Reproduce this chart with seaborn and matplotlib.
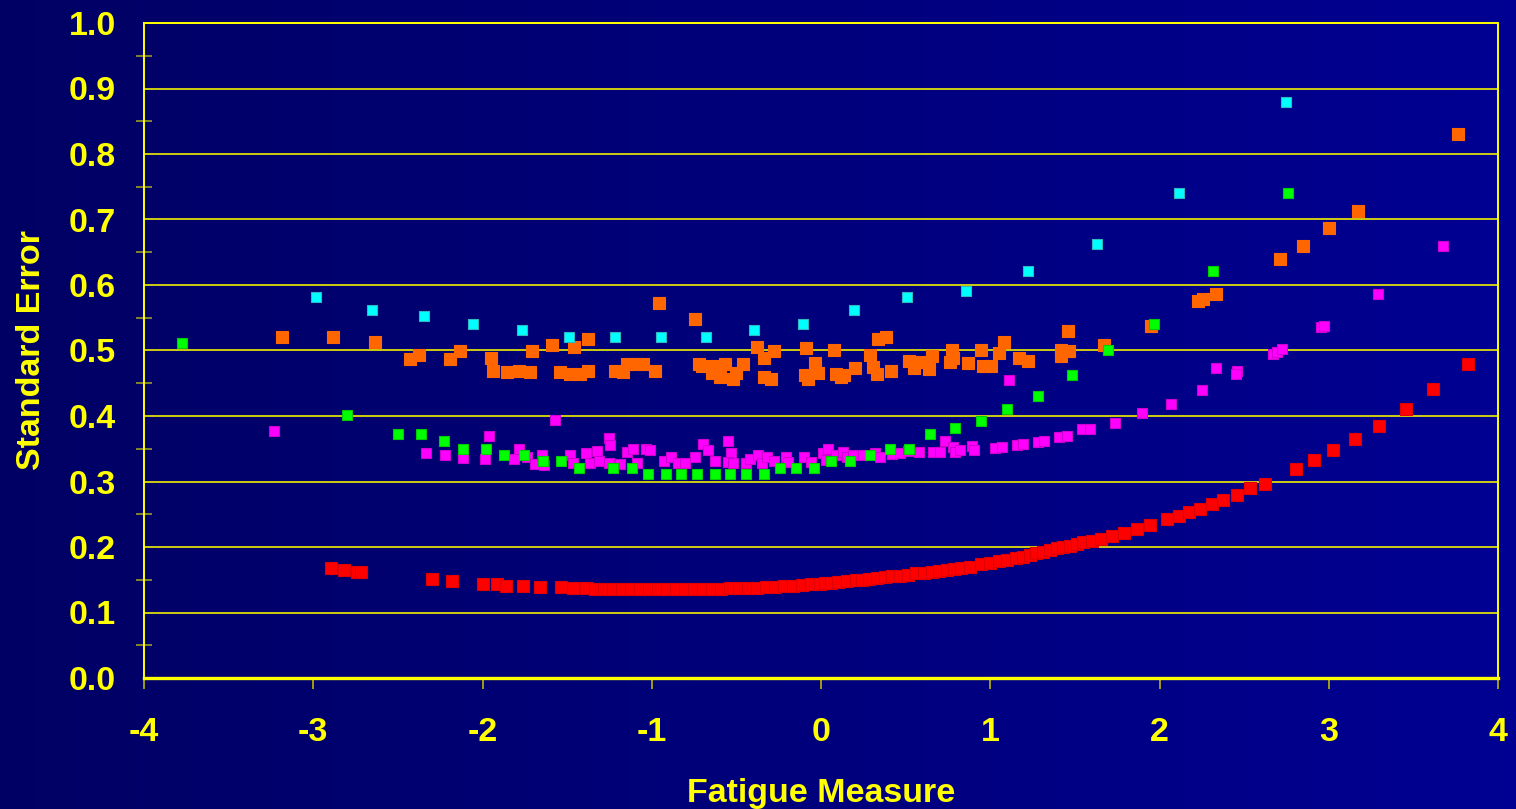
import numpy as np
import pandas as pd
import matplotlib
matplotlib.use("Agg")
import matplotlib.pyplot as plt
import seaborn as sns
from matplotlib.colors import LinearSegmentedColormap
from matplotlib.ticker import MultipleLocator

# --- datos ---
red_x = [-2.895, -2.818, -2.744, -2.718, -2.296, -2.180, -1.998, -1.914, -1.861, -1.761,
         -1.660, -1.539, -1.465, -1.386, -1.335, -1.282, -1.229, -1.176, -1.123, -1.069,
         -1.016, -0.963, -0.910, -0.857, -0.804, -0.750, -0.697, -0.644, -0.591, -0.538,
         -0.485, -0.432, -0.381, -0.325, -0.272, -0.219, -0.166, -0.111, -0.060, -0.006,
         0.021, 0.059, 0.100, 0.152, 0.205, 0.242, 0.284, 0.331, 0.376, 0.422,
         0.469, 0.514, 0.561, 0.609, 0.654, 0.700, 0.746, 0.786, 0.825, 0.880,
         0.944, 0.998, 1.049, 1.099, 1.155, 1.194, 1.234, 1.273, 1.313, 1.353,
         1.392, 1.430, 1.471, 1.513, 1.550, 1.601, 1.656, 1.722, 1.788, 1.867,
         1.946, 2.046, 2.118, 2.173, 2.242, 2.310, 2.376, 2.455, 2.534, 2.621,
         2.806, 2.912, 3.027, 3.154, 3.299, 3.455, 3.618, 3.821]
red_y = [0.168, 0.165, 0.162, 0.162, 0.151, 0.148, 0.144, 0.144, 0.141, 0.141,
         0.139, 0.139, 0.137, 0.137, 0.136, 0.136, 0.136, 0.136, 0.136, 0.136,
         0.136, 0.136, 0.136, 0.136, 0.136, 0.136, 0.136, 0.136, 0.1365, 0.137,
         0.137, 0.1375, 0.138, 0.139, 0.139, 0.140, 0.141, 0.142, 0.143, 0.144,
         0.145, 0.145, 0.146, 0.148, 0.150, 0.150, 0.151, 0.152, 0.154, 0.155,
         0.156, 0.158, 0.160, 0.161, 0.162, 0.163, 0.165, 0.166, 0.168, 0.170,
         0.174, 0.176, 0.178, 0.180, 0.183, 0.185, 0.188, 0.191, 0.193, 0.196,
         0.198, 0.200, 0.202, 0.205, 0.207, 0.209, 0.212, 0.217, 0.222, 0.227,
         0.233, 0.243, 0.248, 0.253, 0.258, 0.265, 0.272, 0.279, 0.290, 0.296,
         0.319, 0.333, 0.348, 0.365, 0.384, 0.411, 0.441, 0.479]

orange_x = [-3.185, -2.883, -2.635, -2.428, -2.375, -2.192, -2.133, -1.952, -1.938, -1.857,
            -1.784, -1.719, -1.708, -1.589, -1.542, -1.483, -1.459, -1.424, -1.378, -1.378,
            -1.217, -1.168, -1.146, -1.089, -1.050, -0.983, -0.957, -0.744, -0.721, -0.705,
            -0.642, -0.625, -0.597, -0.567, -0.522, -0.502, -0.461, -0.378, -0.337, -0.337,
            -0.297, -0.278, -0.089, -0.095, -0.075, -0.035, -0.016, 0.077, 0.089, 0.118,
            0.136, 0.201, 0.337, 0.384, 0.290, 0.307, 0.331, 0.414, 0.520, 0.549,
            0.589, 0.638, 0.656, 0.762, 0.774, 0.780, 0.869, 0.945, 0.957, 1.006,
            1.052, 1.081, 1.170, 1.223, 1.418, 1.418, 1.465, 1.459, 1.672, 1.950,
            2.226, 2.257, 2.334, 2.712, 2.848, 3.001, 3.173, 3.764]
orange_y = [0.521, 0.521, 0.513, 0.487, 0.493, 0.487, 0.499, 0.489, 0.469, 0.467,
            0.469, 0.467, 0.499, 0.508, 0.467, 0.464, 0.505, 0.464, 0.518, 0.469,
            0.469, 0.467, 0.480, 0.480, 0.480, 0.469, 0.573, 0.548, 0.480, 0.477,
            0.465, 0.477, 0.460, 0.480, 0.457, 0.465, 0.480, 0.506, 0.489, 0.460,
            0.457, 0.499, 0.504, 0.463, 0.457, 0.481, 0.465, 0.501, 0.464, 0.460,
            0.463, 0.474, 0.518, 0.521, 0.493, 0.475, 0.464, 0.469, 0.484, 0.473,
            0.482, 0.472, 0.492, 0.482, 0.501, 0.489, 0.481, 0.501, 0.477, 0.477,
            0.496, 0.513, 0.489, 0.484, 0.501, 0.492, 0.499, 0.530, 0.508, 0.538,
            0.575, 0.579, 0.586, 0.640, 0.660, 0.687, 0.713, 0.831]

magenta_x = [-3.234, -2.336, -2.220, -2.113, -1.985, -1.960, -1.814, -1.784, -1.739, -1.690,
             -1.650, -1.634, -1.572, -1.483, -1.465, -1.386, -1.365, -1.323, -1.312, -1.254,
             -1.247, -1.255, -1.188, -1.149, -1.109, -1.087, -1.034, -1.010, -0.928, -0.889,
             -0.845, -0.801, -0.744, -0.697, -0.668, -0.626, -0.552, -0.529, -0.547, -0.517,
             -0.443, -0.420, -0.375, -0.349, -0.317, -0.280, -0.204, -0.195, -0.100, -0.062,
             0.013, 0.041, 0.030, 0.091, 0.132, 0.152, 0.191, 0.250, 0.319, 0.349,
             0.418, 0.467, 0.516, 0.581, 0.664, 0.703, 0.733, 0.782, 0.792, 0.821,
             0.890, 0.904, 1.028, 1.068, 1.109, 1.156, 1.195, 1.284, 1.318, 1.408,
             1.455, 1.540, 1.589, 1.737, 1.894, 2.068, 2.251, 2.334, 2.458, 2.450,
             2.672, 2.692, 2.722, 2.954, 2.972, 3.291, 3.675]
magenta_y = [0.377, 0.343, 0.340, 0.336, 0.335, 0.369, 0.334, 0.350, 0.338, 0.327,
             0.341, 0.325, 0.394, 0.340, 0.328, 0.343, 0.328, 0.347, 0.331, 0.367,
             0.355, 0.329, 0.326, 0.345, 0.349, 0.328, 0.350, 0.348, 0.331, 0.337,
             0.328, 0.328, 0.338, 0.357, 0.348, 0.331, 0.362, 0.343, 0.330, 0.328,
             0.328, 0.335, 0.340, 0.328, 0.338, 0.331, 0.338, 0.330, 0.338, 0.330,
             0.344, 0.349, 0.333, 0.340, 0.345, 0.338, 0.340, 0.340, 0.343, 0.338,
             0.342, 0.343, 0.347, 0.345, 0.345, 0.345, 0.362, 0.353, 0.345, 0.348,
             0.354, 0.348, 0.351, 0.353, 0.455, 0.356, 0.357, 0.361, 0.362, 0.368,
             0.370, 0.380, 0.380, 0.390, 0.404, 0.418, 0.439, 0.474, 0.469, 0.464,
             0.495, 0.497, 0.502, 0.536, 0.538, 0.586, 0.660]

green_x = [-3.774, -2.799, -2.499, -2.363, -2.229, -2.113, -1.978, -1.873, -1.756, -1.641,
           -1.535, -1.428, -1.226, -1.119, -1.022, -0.916, -0.829, -0.734, -0.627, -0.539,
           -0.444, -0.338, -0.242, -0.146, -0.040, 0.057, 0.173, 0.290, 0.406, 0.522,
           0.646, 0.792, 0.945, 1.101, 1.284, 1.485, 1.698, 1.969, 2.316, 2.759]
green_y = [0.511, 0.401, 0.372, 0.372, 0.362, 0.350, 0.350, 0.341, 0.341, 0.331,
           0.331, 0.321, 0.321, 0.321, 0.311, 0.311, 0.311, 0.311, 0.311, 0.311,
           0.311, 0.311, 0.321, 0.321, 0.321, 0.331, 0.331, 0.341, 0.350, 0.350,
           0.372, 0.382, 0.392, 0.411, 0.431, 0.462, 0.501, 0.540, 0.621, 0.740]

cyan_x = [-2.982, -2.653, -2.346, -2.056, -1.767, -1.487, -1.217, -0.947, -0.678, -0.396,
          -0.108, 0.193, 0.510, 0.858, 1.223, 1.631, 2.113, 2.749]
cyan_y = [0.582, 0.562, 0.553, 0.541, 0.531, 0.521, 0.521, 0.521, 0.521, 0.531,
          0.541, 0.562, 0.582, 0.591, 0.621, 0.663, 0.740, 0.880]

x_ticks = [-4, -3, -2, -1, 0, 1, 2, 3, 4]

# --- estilo ---
sns.set_theme(style="white")
plt.rcParams['font.family'] = ['Liberation Sans', 'DejaVu Sans']
plt.rcParams['font.weight'] = 'bold'

YELLOW = '#FFFF00'

fig = plt.figure(figsize=(15.16, 8.09), dpi=100)
fig.patch.set_facecolor('#000066')

# fondo degradado (azul oscuro -> azul)
bg = fig.add_axes([0, 0, 1, 1], zorder=-1)
cmap_bg = LinearSegmentedColormap.from_list('bg', ['#000064', '#000092'])
bg.imshow(np.linspace(0, 1, 256).reshape(1, -1), cmap=cmap_bg, aspect='auto',
          extent=[0, 1, 0, 1])
bg.axis('off')

ax = fig.add_axes([144 / 1516, 131 / 809, 1354 / 1516, 655 / 809])
ax.set_facecolor('none')

series = [
    (red_x, red_y, '#FF0000', '#E00000', 66),
    (orange_x, orange_y, '#FF6600', '#FF6600', 84),
    (magenta_x, magenta_y, '#FF00FF', '#D000D0', 60),
    (green_x, green_y, '#00FF00', '#00CC00', 60),
    (cyan_x, cyan_y, '#00FFFF', '#30B8C0', 56),
]
for xs, ys, col, edge, size in series:
    df = pd.DataFrame({'x': xs, 'y': ys})
    sns.scatterplot(data=df, x='x', y='y', ax=ax, marker='s', s=size,
                    color=col, edgecolor=edge, linewidth=0.8, zorder=3)

ax.set_xlim(-4, 4)
ax.set_ylim(0, 1.0)
ax.set_xticks(x_ticks)
ax.set_xticklabels([str(t) for t in x_ticks])
ax.yaxis.set_major_locator(MultipleLocator(0.1))
ax.yaxis.set_minor_locator(MultipleLocator(0.05))
ax.yaxis.set_major_formatter(matplotlib.ticker.FormatStrFormatter('%.1f'))

ax.grid(axis='y', which='major', color='#F0F000', linewidth=1.2, zorder=1)
ax.grid(axis='x', visible=False)
ax.set_axisbelow(True)

for side in ['left', 'right', 'top']:
    ax.spines[side].set_color(YELLOW)
    ax.spines[side].set_linewidth(1.4)
ax.spines['bottom'].set_color(YELLOW)
ax.spines['bottom'].set_linewidth(2.4)

ax.tick_params(axis='y', which='major', direction='out', length=8, width=1.2,
               color='#B8B800', labelcolor=YELLOW, labelsize=24.5, pad=12)
ax.tick_params(axis='y', which='minor', left=True, direction='inout', length=11.5,
               width=1.2, color='#9A9A20')
ax.tick_params(axis='x', which='major', direction='out', length=8, width=1.2,
               color='#B8B800', labelcolor=YELLOW, labelsize=24.5, pad=20, bottom=True)

ax.set_xlabel('Fatigue Measure', color=YELLOW, fontsize=24.5, fontweight='bold')
ax.set_ylabel('Standard Error', color=YELLOW, fontsize=24.5, fontweight='bold')
ax.xaxis.set_label_coords(0.5, -0.152)
ax.yaxis.set_label_coords(-0.072, 0.5)

fig.savefig('out.png', dpi=100, facecolor=fig.get_facecolor())
